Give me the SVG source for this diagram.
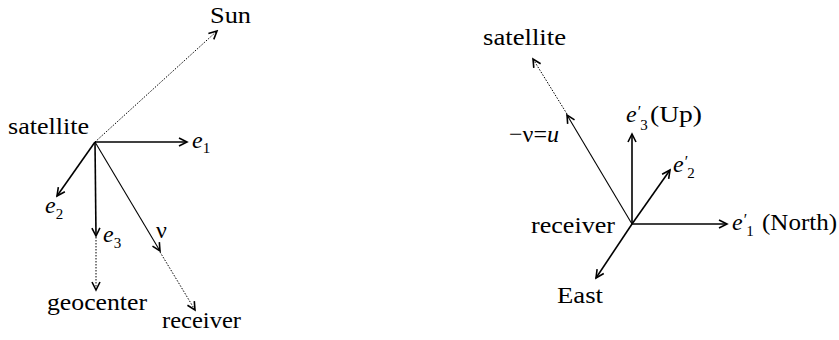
<svg xmlns="http://www.w3.org/2000/svg" width="839" height="340" viewBox="0 0 839 340">
<defs>
<style>
.lbl{font-size:24px;}
.it{font-style:italic;font-size:24px;}
.sub{font-size:15px;}
.pr{font-size:16px;font-style:italic;}
.v{stroke:#000;stroke-width:1.6;fill:none;}
.thin{stroke:#000;stroke-width:1.1;fill:none;}
.dot{stroke:#000;stroke-width:1;fill:none;stroke-dasharray:1.5 1.5;}
</style>
<marker id="ah" viewBox="-10 -6 12 12" refX="0" refY="0" markerWidth="12" markerHeight="12" markerUnits="userSpaceOnUse" orient="auto">
<path d="M-8,-4 L0,0 L-8,4" fill="none" stroke="#000" stroke-width="1.6"/>
</marker>
</defs>
<rect width="839" height="340" fill="#fff"/>
<g id="connectors">
<line class="dot" x1="95" y1="142" x2="217" y2="31" marker-end="url(#ah)"/>
<line class="v" x1="95" y1="142" x2="187" y2="142" marker-end="url(#ah)"/>
<line class="v" x1="95" y1="142" x2="57" y2="196" marker-end="url(#ah)"/>
<line class="v" x1="95" y1="142" x2="96" y2="236" marker-end="url(#ah)"/>
<line class="dot" x1="96" y1="237" x2="96" y2="290" marker-end="url(#ah)"/>
<line class="thin" x1="95" y1="142" x2="160" y2="251" marker-end="url(#ah)"/>
<line class="dot" x1="160" y1="252" x2="195" y2="310" marker-end="url(#ah)"/>
<line class="v" x1="632" y1="224" x2="727" y2="224" marker-end="url(#ah)"/>
<line class="v" x1="632" y1="224" x2="632" y2="134" marker-end="url(#ah)"/>
<line class="v" x1="632" y1="224" x2="670" y2="170" marker-end="url(#ah)"/>
<line class="v" x1="632" y1="224" x2="596" y2="278" marker-end="url(#ah)"/>
<line class="thin" x1="632" y1="224" x2="567" y2="115" marker-end="url(#ah)"/>
<line class="dot" x1="567" y1="114" x2="533" y2="59" marker-end="url(#ah)"/>
</g>
<g font-family="'Liberation Serif', 'Times New Roman', serif" fill="#000">
<g id="sun"><text class="lbl" x="210" y="23" textLength="41" lengthAdjust="spacingAndGlyphs">Sun</text></g>
<g id="satellite-left"><text class="lbl" x="8" y="134" textLength="81" lengthAdjust="spacingAndGlyphs">satellite</text></g>
<g id="e1"><text x="192" y="148"><tspan class="it">e</tspan><tspan class="sub" dy="5">1</tspan></text></g>
<g id="e2"><text x="45" y="213"><tspan class="it">e</tspan><tspan class="sub" dy="6">2</tspan></text></g>
<g id="e3"><text x="103" y="242"><tspan class="it">e</tspan><tspan class="sub" dy="6">3</tspan></text></g>
<g id="nu"><text class="lbl" x="156" y="238">ν</text></g>
<g id="geocenter"><text class="lbl" x="47" y="310" textLength="100" lengthAdjust="spacingAndGlyphs">geocenter</text></g>
<g id="receiver-left"><text class="lbl" x="162" y="328" textLength="79" lengthAdjust="spacingAndGlyphs">receiver</text></g>
<g id="satellite-right"><text class="lbl" x="483" y="45" textLength="83" lengthAdjust="spacingAndGlyphs">satellite</text></g>
<g id="minus-nu-u"><text class="lbl" x="509" y="142">−ν=<tspan font-style="italic">u</tspan></text></g>
<g id="e3p"><text x="626" y="122"><tspan class="it">e</tspan><tspan class="pr" dy="-5">′</tspan><tspan class="sub" dy="13">3</tspan></text><text class="lbl" x="650" y="122" textLength="52" lengthAdjust="spacingAndGlyphs">(Up)</text></g>
<g id="e2p"><text x="673" y="172"><tspan class="it">e</tspan><tspan class="pr" dy="-5">′</tspan><tspan class="sub" dy="11">2</tspan></text></g>
<g id="e1p"><text x="732" y="230"><tspan class="it">e</tspan><tspan class="pr" dy="-5">′</tspan><tspan class="sub" dy="11">1</tspan></text><text class="lbl" x="762" y="230" textLength="75" lengthAdjust="spacingAndGlyphs">(North)</text></g>
<g id="receiver-right"><text class="lbl" x="531" y="233" textLength="84" lengthAdjust="spacingAndGlyphs">receiver</text></g>
<g id="east"><text class="lbl" x="557" y="303" textLength="46" lengthAdjust="spacingAndGlyphs">East</text></g>
</g>
</svg>
